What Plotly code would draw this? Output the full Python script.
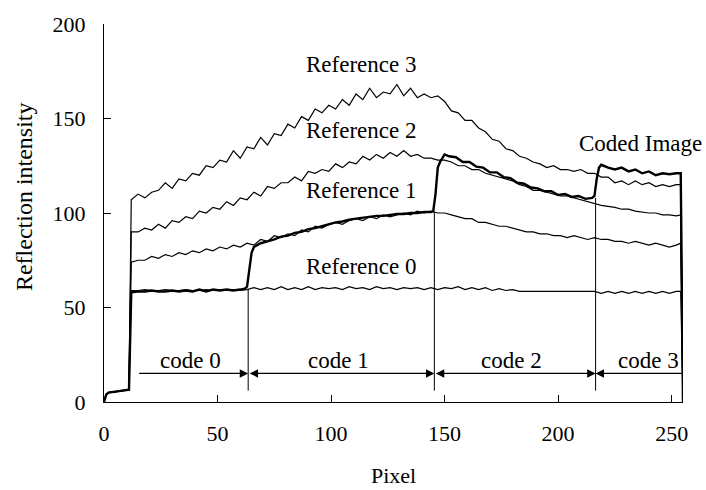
import plotly.graph_objects as go

# ---------------- data ----------------
prefix_x = [0, 1, 2, 6, 7, 11]
prefix_y = [0, 4, 5, 5.5, 6, 6.5]

body_x = [12, 15, 18, 21, 24, 27, 30, 33, 36, 39,
          42, 45, 48, 51, 54, 57, 60, 63, 66, 69,
          72, 75, 78, 81, 84, 87, 90, 93, 96, 99,
          102, 105, 108, 111, 114, 117, 120, 123, 126, 129,
          132, 135, 138, 141, 144, 147, 150, 153, 156, 159,
          162, 165, 168, 171, 174, 177, 180, 183, 186, 189,
          192, 195, 198, 201, 204, 207, 210, 213, 216, 219,
          222, 225, 228, 231, 234, 237, 240, 243, 246, 249,
          252, 254]

ref3_body = [107, 110, 108, 111, 112, 116, 113, 118, 117, 121,
             120, 125, 124, 128, 127, 133, 129, 135, 134, 140,
             136, 142, 141, 147, 145, 151, 149, 155, 153, 157,
             155, 160, 157, 163, 160, 166, 161, 164, 163, 168,
             162, 166, 161, 163, 161, 162, 159, 154, 153, 149,
             149, 145, 143, 139, 138, 134, 133, 130, 129, 127,
             126, 124, 125, 123, 123, 122, 123, 121, 121, 119,
             119, 116, 117, 115, 117, 115, 116, 114, 115, 114,
             115, 115]

ref2_body = [90, 90, 92, 91, 94, 92, 96, 95, 98, 97,
             101, 100, 103, 102, 106, 104, 108, 107, 111, 109,
             114, 113, 116, 116, 119, 117, 122, 121, 123, 122,
             126, 124, 127, 126, 130, 128, 131, 129, 132, 130,
             133, 130, 131, 129, 129, 128, 128, 127, 125, 125,
             123, 123, 121, 120, 119, 118, 117, 115, 114, 112,
             112, 111, 110, 109, 109, 108, 107, 106, 105, 104,
             103.5, 103, 102, 102, 101, 100.5, 100, 100, 99, 99,
             98.5, 99]

ref1_body = [74, 75, 75, 77, 76, 78, 77, 79, 78, 80,
             79, 81, 80, 82, 81, 83, 82, 84, 83, 86,
             85, 88, 87, 89, 88, 91, 90, 93, 92, 94,
             95, 94, 96, 97, 96, 98, 97, 99, 98, 99,
             100, 99, 101, 100, 101, 100, 100, 99, 98, 97,
             97, 95, 95, 94, 93, 93, 92, 91, 90, 90,
             89, 89, 88, 88, 87, 88, 87, 86, 87, 86,
             86, 85, 85, 84, 85, 84, 83, 84, 83, 82,
             83, 84]

ref0_body = [59, 59, 59.5, 59, 59, 59.5, 59, 59, 59.5, 59,
             59, 59.5, 59, 59.5, 59, 59.5, 59, 59.5, 60.5, 59.5,
             60.5, 59.5, 61, 59.5, 60.5, 59.5, 61, 59.5, 60.5, 60,
             60.5, 59.5, 61, 60, 60.5, 59.5, 61, 60, 60.5, 59.5,
             60.5, 60, 60.5, 59.5, 60.5, 59.5, 60.5, 60, 61, 59.5,
             60.5, 59.5, 60.5, 59, 60, 59, 59.5, 58.5, 58.5, 58.5,
             58.5, 58.5, 58.5, 58.5, 58.5, 58.5, 58.5, 58.5, 58.5, 57.5,
             58.5, 57.5, 58.5, 57.5, 58.5, 57.5, 58.5, 57.5, 58.5, 57.5,
             58.5, 58.5]

end_x = [255]
end_y = [0]

coded_x = [0, 1, 2, 6, 7, 11,
           12, 15, 18, 21, 24, 27, 30, 33, 36, 39, 42, 45, 48, 51, 54, 57, 60,
           62, 63, 64, 65,
           66, 69, 72, 75, 78, 81, 84, 87, 90, 93, 96, 99, 102, 105, 108, 111,
           114, 117, 120, 123, 126, 129, 132, 135, 138, 141, 144,
           145, 146, 147, 148, 150, 152,
           155, 158, 161, 164, 167, 170, 173, 176, 179, 182, 185, 188, 191, 194,
           197, 200, 203, 206, 209, 212, 215,
           216, 217, 218, 219,
           222, 225, 228, 231, 234, 237, 240, 243, 246, 249, 252, 254, 255]
coded_y = [0, 4, 5, 5.5, 6, 6.5,
           58, 58.5, 58.5, 59, 58.5, 58.5, 59, 58.5, 59, 58.5, 59.5, 58.5, 59.5, 59, 59.5, 59, 59.5,
           60, 61, 70, 79,
           82, 84, 85, 86, 87.5, 88, 89.5, 90, 91.5, 92, 93, 94, 95, 95.5, 96.5, 97,
           97.5, 98, 98.5, 98.5, 99, 99.5, 99.5, 100, 100, 100.5, 100.5,
           101, 110, 124, 127, 131, 130,
           129.5, 127, 127, 124.5, 124, 121.5, 121.5, 119, 118.5, 116, 115.5, 113.5, 113, 111.5,
           111.5, 109.5, 110, 108.5, 109, 107.5, 108,
           109, 118, 124, 125.5,
           124, 123, 124, 122, 123, 121, 122, 120, 121, 120.5, 121, 121, 0]

ref_names = ["Reference 0", "Reference 1", "Reference 2", "Reference 3"]
ref_label_x = [113.2, 113.2, 113.2, 113.2]
ref_label_y = [71.6, 112.1, 143.7, 178.4]

code_labels = ["code 0", "code 1", "code 2", "code 3"]
code_label_x = [38.2, 103.4, 179.6, 239.9]
code_label_y = 22.1
code_bounds = [14.8, 63.5, 145.5, 216.5, 255]
bound_tops = [59.5, 100.5, 108]
bound_bottom = 6
arrow_y = 15.1

x_ticks = [0, 50, 100, 150, 200, 250]
y_ticks = [0, 50, 100, 150, 200]

FONT = "Liberation Serif, Times New Roman, Times, serif"

# ---------------- figure ----------------
fig = go.Figure()
ref_x = prefix_x + body_x + end_x
for body in [ref0_body, ref1_body, ref2_body, ref3_body]:
    fig.add_trace(go.Scatter(x=ref_x, y=prefix_y + body + end_y, mode="lines",
                             line=dict(color="black", width=1.2), showlegend=False,
                             hoverinfo="skip"))
fig.add_trace(go.Scatter(x=coded_x, y=coded_y, mode="lines",
                         line=dict(color="black", width=2.4), showlegend=False,
                         hoverinfo="skip"))

shapes = []
for bx, top in zip(code_bounds[1:4], bound_tops):
    shapes.append(dict(type="line", xref="x", yref="y", x0=bx, x1=bx,
                       y0=bound_bottom, y1=top, line=dict(color="black", width=1)))

annotations = []
for name, lx, ly in zip(ref_names, ref_label_x, ref_label_y):
    annotations.append(dict(x=lx, y=ly, xref="x", yref="y", text=name, showarrow=False,
                            font=dict(family=FONT, size=23, color="black")))
annotations.append(dict(x=236.3, y=136.8, xref="x", yref="y", text="Coded Image",
                        showarrow=False, font=dict(family=FONT, size=23, color="black")))
for name, lx in zip(code_labels, code_label_x):
    annotations.append(dict(x=lx, y=code_label_y, xref="x", yref="y", text=name,
                            showarrow=False, font=dict(family=FONT, size=23, color="black")))

# arrows
arrow_specs = [
    (code_bounds[1], code_bounds[0], "end"),
    (code_bounds[2], code_bounds[1], "end+start"),
    (code_bounds[3], code_bounds[2], "end+start"),
    (code_bounds[3], code_bounds[4], "end"),
]
for hx, tx, side in arrow_specs:
    annotations.append(dict(x=hx, y=arrow_y, ax=tx, ay=arrow_y, xref="x", yref="y",
                            axref="x", ayref="y", text="", showarrow=True,
                            arrowhead=2, startarrowhead=2, arrowside=side,
                            arrowsize=1.4, startarrowsize=1.4, arrowwidth=1.2,
                            arrowcolor="black", standoff=0, startstandoff=0))

# axis titles
annotations.append(dict(x=0.5, y=(402 - 476) / 380, xref="paper", yref="paper",
                        text="Pixel", showarrow=False, xanchor="center", yanchor="middle",
                        font=dict(family=FONT, size=22, color="black")))
annotations.append(dict(x=(24 - 104) / 579, y=(402 - 196) / 380, xref="paper", yref="paper",
                        text="Reflection intensity", showarrow=False, textangle=-90,
                        xanchor="center", yanchor="middle",
                        font=dict(family=FONT, size=24, color="black")))

axis_common = dict(showgrid=False, zeroline=False, showline=True, linecolor="black",
                   linewidth=1.2, ticks="inside", ticklen=7, tickwidth=1.2,
                   tickcolor="black", tickfont=dict(family=FONT, size=22, color="black"))

fig.update_layout(
    width=706, height=490,
    margin=dict(l=104, r=23, t=22, b=88),
    paper_bgcolor="white", plot_bgcolor="white",
    font=dict(family=FONT, color="black"),
    xaxis=dict(range=[0, 255], tickvals=x_ticks, ticklabelstandoff=11, **axis_common),
    yaxis=dict(range=[0, 200], tickvals=y_ticks, ticklabelstandoff=13, **axis_common),
    shapes=shapes, annotations=annotations, showlegend=False,
)

fig.write_html("out.html")
